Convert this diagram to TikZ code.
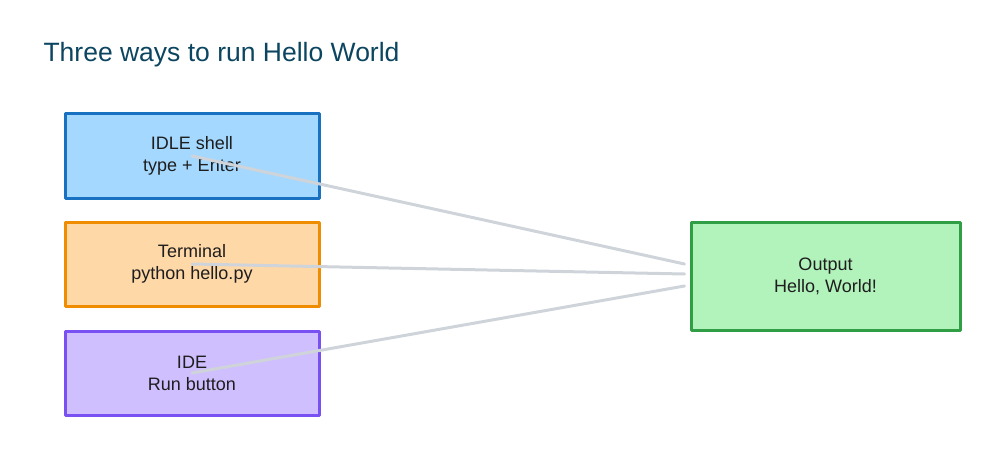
\documentclass[tikz,border=0pt]{standalone}
\usepackage{fontspec}
\setmainfont{Liberation Sans}
\definecolor{ink}{HTML}{1E1E1E}
\definecolor{titlec}{HTML}{0B4560}
\definecolor{blueF}{HTML}{A5D8FF}\definecolor{blueD}{HTML}{1971C2}
\definecolor{orF}{HTML}{FFD8A8}\definecolor{orD}{HTML}{F08C00}
\definecolor{puF}{HTML}{D0BFFF}\definecolor{puD}{HTML}{7950F2}
\definecolor{grF}{HTML}{B2F2BB}\definecolor{grD}{HTML}{2F9E44}
\definecolor{conn}{HTML}{CED4DA}
\begin{document}
\begin{tikzpicture}[x=1pt,y=-1pt,
  box/.style={draw, line width=3pt, minimum width=254pt, minimum height=84pt,
    inner sep=0pt, align=center, text=ink, font=\fontsize{18}{22}\selectfont, line join=round},
  wire/.style={draw=conn, line width=3pt, line cap=round}]
\useasboundingbox (0,0) rectangle (1000,457);
\node[anchor=base west, text=titlec, font=\fontsize{26.5}{30}\selectfont] (title) at (40,62) {Three ways to run Hello World};
\node[box, fill=blueF, draw=blueD] (idle) at (192,156) {IDLE shell\\type + Enter};
\node[box, fill=orF, draw=orD] (term) at (192,264) {Terminal\\python hello.py};
\node[box, fill=puF, draw=puD] (ide) at (192,373) {IDE\\Run button};
\node[box, fill=grF, draw=grD, minimum width=269pt, minimum height=108pt] (out) at (825.5,276) {Output\\Hello, World!};
\coordinate (e1) at ([shift={(-5,-12)}]out.west);
\coordinate (e2) at ([shift={(-5,-2)}]out.west);
\coordinate (e3) at ([shift={(-5,10)}]out.west);
\draw[wire] (idle.center) -- (e1);
\draw[wire] (term.center) -- (e2);
\draw[wire] (ide.center) -- (e3);
\end{tikzpicture}
\end{document}
